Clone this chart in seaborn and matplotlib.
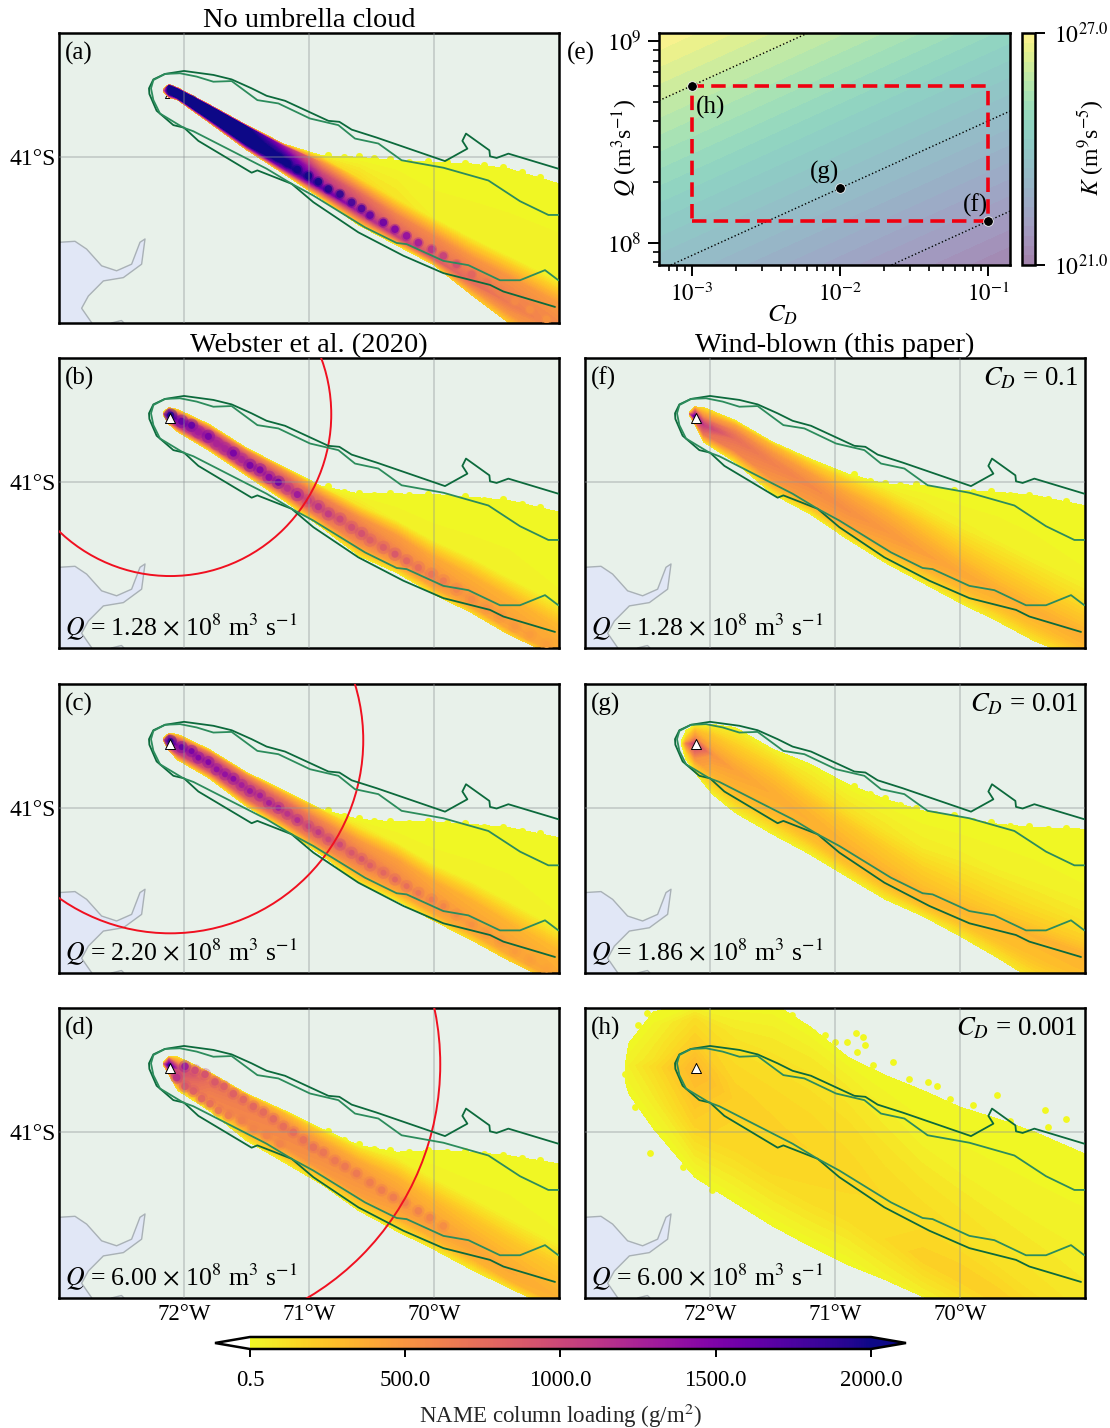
# Column loading panels (a)-(h) with the Q / C_D parameter space in (e)

import numpy as np
import pandas as pd
import seaborn as sns
import matplotlib.pyplot as plt
from matplotlib.cm import ScalarMappable
from matplotlib.colors import ListedColormap, Normalize
from matplotlib.patches import Ellipse, Polygon

W, H = 1110, 1428

# Outlines, coast and vent (lon, lat)
outer_lon = [-69.005, -69.405, -69.499, -69.552, -69.557, -69.744, -69.773, -69.733, -69.912, -70.459, -70.659, -70.757, -70.845, -71.192, -71.339, -71.459, -71.619, -71.765, -72.0, -72.152, -72.245, -72.28, -72.277, -72.219, -72.085, -72.0, -71.885, -71.459, -71.413, -71.139, -70.965, -70.605, -70.245, -69.925, -69.552, -69.445, -69.032]
outer_lat = [-41.069, -40.978, -41.004, -40.994, -40.958, -40.857, -40.901, -40.948, -41.023, -40.881, -40.833, -40.786, -40.78, -40.659, -40.629, -40.584, -40.53, -40.503, -40.479, -40.497, -40.53, -40.584, -40.618, -40.719, -40.806, -40.821, -40.901, -41.093, -41.079, -41.16, -41.271, -41.453, -41.594, -41.699, -41.77, -41.81, -41.903]
inner_lon = [-69.005, -69.085, -69.312, -69.565, -69.925, -70.259, -70.445, -70.632, -70.765, -70.992, -71.245, -71.413, -71.619, -71.765, -71.899, -72.032, -72.152, -72.245, -72.264, -72.245, -72.192, -72.005, -71.925, -71.339, -71.139, -70.965, -70.552, -70.299, -70.219, -69.925, -69.725, -69.472, -69.312, -69.112, -69.005]
inner_lat = [-41.348, -41.348, -41.265, -41.14, -41.063, -41.018, -40.917, -40.887, -40.806, -40.766, -40.675, -40.655, -40.54, -40.544, -40.513, -40.493, -40.497, -40.534, -40.584, -40.655, -40.736, -40.821, -40.843, -41.069, -41.16, -41.231, -41.423, -41.517, -41.524, -41.625, -41.651, -41.742, -41.742, -41.681, -41.742]
coast_lon = [-73.0, -72.872, -72.779, -72.659, -72.539, -72.419, -72.352, -72.312, -72.339, -72.485, -72.645, -72.765, -72.819, -72.739]
coast_lat = [-41.513, -41.507, -41.554, -41.655, -41.685, -41.645, -41.513, -41.493, -41.645, -41.726, -41.746, -41.837, -41.911, -41.998]
vent_lon, vent_lat = -72.11, -40.615
umbrella_lat = -40.59

# Plume stations, edges and cross sections, one table per panel
station_lon = [-72.165, -72.12, -72.05, -71.8, -71.5, -71.2, -70.9, -70.6, -70.3, -70.0, -69.7, -69.4, -69.0]
ridge_shared = [-40.585, -40.60, -40.622, -40.727, -40.884, -41.02, -41.161, -41.303, -41.434, -41.585, -41.707, -41.848, -42.03]

a_top = [-40.585, -40.56, -40.58, -40.68, -40.805, -40.92, -40.99, -41.0, -41.02, -41.03, -41.04, -41.07, -41.16]
a_bottom = [-40.605, -40.64, -40.655, -40.79, -40.955, -41.10, -41.25, -41.41, -41.53, -41.65, -41.83, -42.0, -42.2]
a_ridge = [-40.595, -40.60, -40.625, -40.745, -40.891, -41.037, -41.182, -41.328, -41.473, -41.61, -41.75, -41.88, -42.05]
a_band = [.005, .03, .035, .055, .075, .10, .15, .2, .22, .24, .26, .28, .3]
a_vals = [[100, 200, 400, 600, 800, 400, 100],
          [300, 2050, 2100, 2100, 2100, 1800, 300],
          [200, 2050, 2100, 2100, 2100, 2100, 200],
          [200, 2050, 2100, 2100, 2100, 2050, 200],
          [200, 2000, 2100, 2100, 2100, 2000, 200],
          [100, 1300, 1800, 2050, 2050, 1400, 100],
          [.5, 500, 1000, 1300, 1650, 800, 100],
          [.5, 150, 750, 1000, 1250, 600, 50],
          [.5, 100, 600, 800, 1050, 500, 50],
          [.5, 50, 550, 700, 850, 500, 100],
          [.5, 50, 500, 650, 750, 500, 200],
          [.5, 50, 500, 600, 650, 500, 200],
          [.5, 50, 450, 550, 550, 500, 300]]

b_top = [-40.575, -40.549, -40.561, -40.65, -40.793, -40.909, -41.024, -41.07, -41.07, -41.074, -41.09, -41.11, -41.18]
b_bottom = [-40.595, -40.65, -40.696, -40.808, -40.959, -41.11, -41.272, -41.444, -41.545, -41.676, -41.787, -41.919, -42.06]
b_band = [.005, .035, .03, .05, .07, .09, .12, .16, .20, .23, .25, .27, .30]
b_vals = [[50, 100, 300, 500, 700, 300, 50],
          [200, 1000, 1400, 1700, 1850, 1200, 200],
          [100, 850, 1200, 1300, 1400, 1150, 100],
          [50, 700, 1100, 1200, 1250, 1000, 80],
          [50, 600, 950, 1100, 1150, 900, 80],
          [50, 450, 800, 950, 1050, 750, 60],
          [.5, 220, 620, 800, 880, 620, 50],
          [.5, 100, 520, 660, 740, 520, 50],
          [.5, 50, 460, 560, 640, 430, 50],
          [.5, 40, 390, 490, 530, 410, 80],
          [.5, 40, 350, 430, 480, 400, 120],
          [.5, 40, 340, 410, 440, 400, 150],
          [.5, 30, 300, 380, 400, 380, 250]]

c_top = [-40.575, -40.549, -40.555, -40.645, -40.785, -40.895, -41.01, -41.07, -41.085, -41.085, -41.10, -41.12, -41.18]
c_bottom = [-40.595, -40.655, -40.71, -40.82, -40.99, -41.13, -41.285, -41.455, -41.56, -41.685, -41.80, -41.925, -42.07]
c_band = [.005, .035, .035, .06, .08, .10, .14, .18, .22, .24, .26, .28, .30]
c_vals = [[50, 100, 300, 500, 700, 300, 50],
          [200, 1000, 1400, 1600, 1750, 1200, 200],
          [100, 800, 1100, 1200, 1300, 1050, 100],
          [50, 620, 980, 1100, 1150, 900, 80],
          [50, 520, 880, 1000, 1080, 820, 70],
          [50, 400, 750, 880, 970, 700, 60],
          [.5, 220, 580, 760, 860, 580, 50],
          [.5, 100, 470, 610, 710, 480, 50],
          [.5, 50, 430, 530, 610, 410, 50],
          [.5, 40, 380, 460, 490, 390, 80],
          [.5, 40, 340, 410, 450, 380, 120],
          [.5, 40, 320, 400, 430, 380, 150],
          [.5, 30, 300, 370, 390, 370, 250]]

d_top = [-40.575, -40.545, -40.545, -40.636, -40.767, -40.868, -40.979, -41.08, -41.12, -41.11, -41.12, -41.141, -41.191]
d_bottom = [-40.595, -40.655, -40.747, -40.868, -41.05, -41.181, -41.313, -41.474, -41.595, -41.707, -41.828, -41.939, -42.08]
d_ridge = [-40.585, -40.595, -40.616, -40.707, -40.848, -40.979, -41.131, -41.272, -41.414, -41.565, -41.696, -41.838, -42.0]
d_band = [.005, .035, .03, .06, .07, .09, .13, .17, .25, .28, .30, .32, .33]
d_vals = [[50, 100, 300, 500, 700, 300, 50],
          [200, 900, 1300, 1650, 1850, 1000, 150],
          [100, 600, 850, 950, 1000, 800, 80],
          [50, 450, 600, 660, 700, 600, 50],
          [50, 350, 520, 590, 620, 550, 50],
          [50, 300, 480, 550, 580, 530, 50],
          [.5, 200, 420, 510, 560, 480, 50],
          [.5, 120, 380, 480, 530, 440, 40],
          [.5, 60, 340, 440, 490, 380, 40],
          [.5, 50, 300, 400, 450, 340, 50],
          [.5, 40, 260, 360, 410, 320, 60],
          [.5, 40, 250, 340, 380, 340, 80],
          [.5, 30, 230, 310, 350, 320, 150]]

f_top = [-40.575, -40.545, -40.549, -40.626, -40.757, -40.858, -40.949, -41.01, -41.02, -41.05, -41.06, -41.08, -41.141]
f_bottom = [-40.595, -40.65, -40.757, -40.878, -41.07, -41.191, -41.343, -41.484, -41.606, -41.727, -41.838, -41.959, -42.08]
f_ridge = [-40.585, -40.605, -40.656, -40.737, -40.889, -41.02, -41.171, -41.293, -41.424, -41.545, -41.656, -41.777, -41.939]
f_band = [.005, .04, .05, .08, .11, .13, .18, .22, .26, .28, .30, .32, .35]
f_vals = [[50, 100, 300, 500, 700, 300, 50],
          [200, 700, 1100, 1500, 1750, 800, 150],
          [100, 550, 820, 980, 1050, 700, 80],
          [40, 400, 600, 700, 720, 600, 60],
          [30, 300, 500, 590, 610, 500, 40],
          [30, 220, 450, 530, 560, 470, 40],
          [.5, 180, 400, 490, 530, 430, 40],
          [.5, 130, 340, 440, 480, 380, 40],
          [.5, 80, 270, 390, 440, 330, 30],
          [.5, 60, 210, 340, 400, 300, 40],
          [.5, 50, 180, 300, 370, 290, 60],
          [.5, 40, 170, 290, 360, 280, 90],
          [.5, 30, 150, 290, 360, 300, 150]]

g_lon = [-72.225, -72.19, -72.12, -71.98, -71.8, -71.5, -71.2, -70.9, -70.6, -70.3, -70.0, -69.7, -69.4, -69.0]
g_top = [-40.59, -40.53, -40.499, -40.495, -40.513, -40.644, -40.735, -40.856, -40.947, -41.018, -41.058, -41.099, -41.119, -41.129]
g_bottom = [-40.63, -40.71, -40.786, -40.917, -41.028, -41.159, -41.281, -41.418, -41.553, -41.654, -41.776, -41.907, -42.048, -42.149]
g_ridge = [-40.61, -40.61, -40.614, -40.68, -40.776, -40.917, -41.079, -41.24, -41.382, -41.523, -41.604, -41.695, -41.776, -41.887]
g_band = [.01, .05, .08, .11, .14, .18, .2, .22, .24, .28, .30, .32, .34, .36]
g_vals = [[.5, 10, 20, 30, 40, 20, .5],
          [30, 100, 250, 400, 600, 200, 30],
          [30, 300, 500, 800, 1050, 500, 30],
          [30, 260, 340, 430, 500, 330, 30],
          [30, 220, 320, 390, 420, 310, 30],
          [30, 180, 290, 350, 370, 300, 30],
          [20, 140, 270, 330, 350, 290, 30],
          [.5, 120, 250, 310, 340, 290, 40],
          [.5, 100, 220, 290, 330, 280, 40],
          [.5, 70, 190, 270, 330, 280, 40],
          [.5, 60, 160, 240, 320, 270, 50],
          [.5, 50, 140, 230, 320, 270, 70],
          [.5, 40, 120, 220, 330, 270, 100],
          [.5, 30, 100, 210, 340, 290, 150]]

h_lon = [-72.68, -72.65, -72.45, -72.12, -71.8, -71.5, -71.2, -70.9, -70.6, -70.3, -70.0, -69.7, -69.4, -69.0]
h_top = [-40.606, -40.464, -40.272, -40.22, -40.22, -40.22, -40.363, -40.545, -40.656, -40.747, -40.848, -40.919, -41.0, -41.131]
h_bottom = [-40.687, -40.767, -40.979, -41.272, -41.424, -41.565, -41.686, -41.798, -41.889, -41.99, -42.08, -42.2, -42.32, -42.44]
h_ridge = [-40.64, -40.595, -40.606, -40.616, -40.808, -40.949, -41.111, -41.252, -41.394, -41.535, -41.656, -41.798, -41.939, -42.1]
h_band = [.01, .1, .25, .3, .4, .5, .55, .55, .5, .45, .45, .45, .45, .45]
h_vals = [[.5, 5, 5, 10, 10, 5, .5],
          [.5, 10, 30, 40, 50, 30, .5],
          [.5, 30, 70, 100, 140, 70, .5],
          [.5, 130, 200, 280, 320, 190, .5],
          [.5, 90, 150, 180, 190, 150, .5],
          [.5, 80, 140, 170, 180, 150, .5],
          [.5, 80, 140, 165, 175, 140, .5],
          [.5, 70, 130, 155, 165, 130, .5],
          [.5, 60, 110, 140, 150, 150, 30],
          [.5, 50, 100, 130, 140, 190, 40],
          [.5, 40, 90, 120, 130, 200, 60],
          [.5, 40, 85, 110, 120, 200, 70],
          [.5, 40, 80, 100, 110, 180, 90],
          [.5, 40, 70, 90, 100, 150, 100]]

# Bright pulses along the ridge
bead_lon = [-72.107, -72.019, -71.939, -71.885, -71.805, -71.739, -71.672, -71.605, -71.539, -71.472, -71.392, -71.32, -71.245, -71.173, -71.093, -71.005, -70.925, -70.845, -70.752, -70.659, -70.579, -70.512, -70.405, -70.312, -70.219, -70.125, -70.019, -69.925, -69.819, -69.699, -69.579, -69.472, -69.352, -69.232, -69.099]
bead_lat = [-40.595, -40.632, -40.656, -40.696, -40.723, -40.767, -40.797, -40.824, -40.862, -40.898, -40.925, -40.97, -41.0, -41.036, -41.074, -41.111, -41.147, -41.191, -41.222, -41.272, -41.309, -41.349, -41.393, -41.434, -41.474, -41.515, -41.555, -41.595, -41.646, -41.707, -41.757, -41.808, -41.868, -41.919, -41.979]
a_bead = [2100] * 17 + [1950, 1900, 1800, 1750, 1650, 1600, 1500, 1400, 1300, 1150, 1050, 950, 800, 700, 620, 560, 520, 500]
b_bead = [1950, 1650, 1650, 1300, 1550, 1250, 1250, 1550, 1250, 1550, 1500, 1450, 1600, 1150, 1350, 1050, 1150, 1100, 1000, 950, 950, 850, 850, 900, 800, 750, 700, 650, 600, 550, 520, 500, 480, 460, 440]
c_bead = [1900, 1650, 1550, 1500, 1500, 1400, 1400, 1450, 1300, 1350, 1300, 1300, 1300, 1150, 1200, 1050, 1100, 1000, 1000, 900, 900, 850, 800, 800, 750, 700, 650, 600, 560, 520, 500, 480, 460, 440, 420]
d_bead_lon = [-71.992, -71.912, -71.832, -71.752, -71.68, -71.605, -71.525, -71.445, -71.365, -71.285, -71.205, -71.125, -71.045, -70.965, -70.885, -70.792, -70.712, -70.619, -70.512, -70.419, -70.325, -70.232, -70.125, -70.032, -69.925, -72.059, -71.992, -71.925, -71.859, -71.792, -71.725, -71.645, -71.539, -71.445, -71.339, -71.232]
d_bead_lat = [-40.602, -40.626, -40.65, -40.696, -40.723, -40.767, -40.802, -40.844, -40.878, -40.919, -40.965, -41.0, -41.046, -41.09, -41.121, -41.171, -41.206, -41.248, -41.303, -41.349, -41.393, -41.424, -41.474, -41.515, -41.565, -40.67, -40.723, -40.751, -40.797, -40.828, -40.868, -40.898, -40.929, -40.979, -41.02, -41.07]
d_bead = [1350, 1000, 950, 900, 850, 850, 800, 800, 780, 780, 750, 750, 720, 720, 700, 680, 680, 680, 650, 650, 650, 620, 620, 600, 550, 1150, 900, 850, 800, 750, 700, 650, 620, 600, 600, 600]

# Loose patches along the rough top edge of the tail and around (h)
bump_lon = [-70.85, -70.72, -70.6, -70.48, -70.35, -70.2, -70.05, -69.9, -69.75, -69.6, -69.45, -69.3, -69.15]
a_bump = [-40.985, -40.998, -40.993, -41.004, -41.008, -41.027, -41.02, -41.03, -41.032, -41.047, -41.06, -41.09, -41.12]
b_bump = [-41.025, -41.056, -41.063, -41.074, -41.064, -41.076, -41.068, -41.086, -41.084, -41.104, -41.10, -41.132, -41.147]
c_bump = [-41.014, -41.05, -41.063, -41.08, -41.079, -41.089, -41.079, -41.094, -41.094, -41.114, -41.117, -41.14, -41.151]
d_bump = [-40.99, -41.045, -41.073, -41.10, -41.107, -41.119, -41.104, -41.117, -41.114, -41.134, -41.139, -41.157, -41.166]
f_bump = [-40.953, -40.99, -41.003, -41.017, -41.012, -41.04, -41.044, -41.058, -41.054, -41.078, -41.079, -41.10, -41.112]
g_bump = [-40.865, -40.915, -40.94, -40.98, -41.0, -41.036, -41.045, -41.077, -41.086, -41.11, -41.11, -41.125, -41.119]
speck_lon = [-72.68, -72.507, -72.613, -71.173, -71.08, -71.0, -70.907, -70.832, -70.773, -70.76, -70.827, -70.693, -70.533, -70.405, -70.253, -70.181, -70.08, -69.893, -69.707, -69.6, -69.32, -69.155, -69.293, -69.413, -72.48, -72.213, -71.981, -72.6, -72.547, -71.347, -72.573]
speck_lat = [-40.65, -40.282, -40.464, -40.393, -40.414, -40.454, -40.454, -40.4, -40.424, -40.474, -40.515, -40.595, -40.575, -40.676, -40.696, -40.723, -40.798, -40.838, -40.777, -40.929, -40.868, -40.919, -40.969, -41.01, -41.125, -41.212, -41.349, -40.848, -40.848, -40.292, -40.353]

# Umbrella radius in degrees of longitude, source rates
umbrella_r = [1.288, 1.544, 2.16]
q_text = ['1.28', '2.20', '6.00', '1.28', '1.86', '6.00']
cd_text = ['0.1', '0.01', '0.001']

# Panel (e), all in log10
cd_edges = [-3.22, -0.85]
q_edges = [7.89, 9.04]
k_table = [[23.59, 21.22], [27.04, 24.67]]
run_cd = [-1, -2, -3]
run_q = [8.107, 8.27, 8.778]
line_h = ([-3.22, -2.214], [8.705, 9.04])
line_g = ([-3.14, -0.85], [7.89, 8.653])
line_f = ([-1.65, -0.85], [7.89, 8.157])
box_cd = [-3, -1, -1, -3, -3]
box_q = [8.107, 8.107, 8.778, 8.778, 8.107]

sns.set_theme(style='white')
plt.rcParams['font.family'] = ['Liberation Serif', 'DejaVu Sans']
plt.rcParams['mathtext.fontset'] = 'stix'
plt.rcParams['axes.edgecolor'] = 'black'
plt.rcParams['axes.linewidth'] = 1.8
plt.rcParams['text.color'] = 'black'
plt.rcParams['xtick.color'] = 'black'
plt.rcParams['ytick.color'] = 'black'

cmap = sns.color_palette('plasma_r', as_cmap=True).copy()
cmap.set_under('white')
cmap.set_over('#0d0887')
norm = Normalize(0.5, 2000)
levels = np.linspace(0.5, 2000, 81)

# viridis at half strength over white, opaque so the bands leave no seams
pale_viridis = np.array(sns.color_palette('viridis', 256))
pale_viridis = ListedColormap(0.5 * pale_viridis + 0.5)

LAND = '#e8f1ea'
SEA = '#e1e7f6'
DARK = '#0c6a3c'
MID = '#2c8c5c'
YELLOW = '#f1f821'


def px_axes(fig, left, top, right, bottom):
    return fig.add_axes([left / W, 1 - bottom / H, (right - left) / W, (bottom - top) / H])


def draw_plume(ax, lons, top, bottom, ridge, band, vals):
    top, bottom, ridge, band = map(np.array, (top, bottom, ridge, band))
    rows = np.array([top, ridge + band, ridge + .55 * band, ridge + .2 * band,
                     ridge, (ridge + bottom) / 2, bottom]).T
    xx = np.repeat(np.array(lons)[:, None], rows.shape[1], axis=1)
    ax.contourf(xx, rows, np.array(vals), levels=levels, cmap=cmap, norm=norm,
                extend='max', zorder=2)


def draw_bumps(ax, lons, lats, size=26):
    sns.scatterplot(x=lons, y=lats, color=YELLOW, s=size, linewidth=0, legend=False, ax=ax, zorder=1.9)


def draw_beads(ax, lons, lats, vals, size, halo):
    df = pd.DataFrame({'lon': lons, 'lat': lats, 'val': vals})
    sns.scatterplot(data=df, x='lon', y='lat', hue='val', palette=cmap, hue_norm=norm,
                    s=halo, alpha=.35, linewidth=0, legend=False, ax=ax, zorder=3)
    sns.scatterplot(data=df, x='lon', y='lat', hue='val', palette=cmap, hue_norm=norm,
                    s=size, alpha=.85, linewidth=0, legend=False, ax=ax, zorder=3.1)


def base_map(ax, label):
    ax.set_facecolor(LAND)
    ax.add_patch(Polygon(list(zip(coast_lon, coast_lat)) + [(-73, -42), (-73.1, -42), (-73.1, -41.5)],
                         closed=True, fc=SEA, ec='none', zorder=1))
    ax.plot(coast_lon, coast_lat, color='#a9b1b6', lw=1.0, zorder=1.5)
    ax.plot([-72.58, -72.5, -72.48], [-42.0, -41.985, -42.0], color='#a9b1b6', lw=1.0, zorder=1.5)
    ax.text(0.012, 0.93, label, transform=ax.transAxes, fontsize=18, ha='left', va='center', zorder=10)


def finish_map(ax, show_lon=False, show_lat=True):
    for lon in [-72, -71, -70]:
        ax.axvline(lon, color='#8f9496', alpha=.42, lw=1.2, zorder=4)
    ax.axhline(-41, color='#8f9496', alpha=.42, lw=1.2, zorder=4)
    sns.lineplot(x=outer_lon, y=outer_lat, sort=False, estimator=None, color=DARK, lw=1.3, ax=ax, zorder=6)
    sns.lineplot(x=inner_lon, y=inner_lat, sort=False, estimator=None, color=MID, lw=1.3, ax=ax, zorder=6)
    ax.set_xlim(-73, -69)
    ax.set_ylim(-42, -40.25)
    ax.set_xlabel('')
    ax.set_ylabel('')
    ax.set_xticks([-72, -71, -70] if show_lon else [])
    ax.set_xticklabels(['72°W', '71°W', '70°W'] if show_lon else [], fontsize=16.5)
    ax.set_yticks([-41] if show_lat else [])
    ax.set_yticklabels(['41°S'] if show_lat else [], fontsize=17)
    ax.tick_params(axis='x', length=0, pad=4)
    ax.tick_params(axis='y', length=0, pad=2.5)


def draw_vent(ax, zorder=7):
    sns.scatterplot(x=[vent_lon], y=[vent_lat], marker='^', s=52, color='white',
                    edgecolor='black', linewidth=.7, legend=False, ax=ax, zorder=zorder)


def draw_umbrella(ax, radius):
    ax.add_patch(Ellipse((vent_lon, umbrella_lat), 2 * radius, 2 * radius * 125 / 165, fill=False,
                         ec='#f01020', lw=1.4, zorder=5))


fig = plt.figure(figsize=(W / 100, H / 100), dpi=100)

ax_a = px_axes(fig, 59, 33, 559, 323)
ax_b = px_axes(fig, 59, 358, 559, 648)
ax_c = px_axes(fig, 59, 684, 559, 973)
ax_d = px_axes(fig, 59, 1008, 559, 1298)
ax_f = px_axes(fig, 585, 358, 1085, 648)
ax_g = px_axes(fig, 585, 684, 1085, 973)
ax_h = px_axes(fig, 585, 1008, 1085, 1298)
ax_e = px_axes(fig, 659, 33, 1010, 265)
ax_k = px_axes(fig, 1022, 33, 1035, 265)
ax_bar = px_axes(fig, 215, 1337, 906, 1349)

# Left column
base_map(ax_a, '(a)')
draw_vent(ax_a, zorder=1.8)
draw_bumps(ax_a, bump_lon, a_bump)
draw_plume(ax_a, station_lon, a_top, a_bottom, a_ridge, a_band, a_vals)
draw_beads(ax_a, bead_lon, bead_lat, a_bead, 30, 60)
finish_map(ax_a)

base_map(ax_b, '(b)')
draw_bumps(ax_b, bump_lon, b_bump)
draw_plume(ax_b, station_lon, b_top, b_bottom, ridge_shared, b_band, b_vals)
draw_beads(ax_b, bead_lon, bead_lat, b_bead, 26, 95)
draw_umbrella(ax_b, umbrella_r[0])
finish_map(ax_b)
draw_vent(ax_b)

base_map(ax_c, '(c)')
draw_bumps(ax_c, bump_lon, c_bump)
draw_plume(ax_c, station_lon, c_top, c_bottom, ridge_shared, c_band, c_vals)
draw_beads(ax_c, bead_lon, bead_lat, c_bead, 18, 80)
draw_umbrella(ax_c, umbrella_r[1])
finish_map(ax_c)
draw_vent(ax_c)

base_map(ax_d, '(d)')
draw_bumps(ax_d, bump_lon, d_bump)
draw_plume(ax_d, station_lon, d_top, d_bottom, d_ridge, d_band, d_vals)
draw_beads(ax_d, d_bead_lon, d_bead_lat, d_bead, 30, 80)
draw_umbrella(ax_d, umbrella_r[2])
finish_map(ax_d, show_lon=True)
draw_vent(ax_d)

# Right column
base_map(ax_f, '(f)')
draw_bumps(ax_f, bump_lon, f_bump)
draw_plume(ax_f, station_lon, f_top, f_bottom, f_ridge, f_band, f_vals)
finish_map(ax_f, show_lat=False)
draw_vent(ax_f)

base_map(ax_g, '(g)')
draw_bumps(ax_g, bump_lon, g_bump)
draw_plume(ax_g, g_lon, g_top, g_bottom, g_ridge, g_band, g_vals)
finish_map(ax_g, show_lat=False)
draw_vent(ax_g)

base_map(ax_h, '(h)')
draw_plume(ax_h, h_lon, h_top, h_bottom, h_ridge, h_band, h_vals)
draw_bumps(ax_h, speck_lon, speck_lat, size=24)
finish_map(ax_h, show_lon=True, show_lat=False)
draw_vent(ax_h)

for ax, q in zip([ax_b, ax_c, ax_d, ax_f, ax_g, ax_h], q_text):
    ax.text(0.012, 0.02, f'$Q$ = {q} $\\times$ 10$^8$ m$^3$ s$^{{-1}}$', transform=ax.transAxes,
            fontsize=18.5, ha='left', va='bottom', zorder=10)
for ax, cd in zip([ax_f, ax_g, ax_h], cd_text):
    ax.text(0.986, 0.93, f'$C_D$ = {cd}', transform=ax.transAxes, fontsize=19.3,
            ha='right', va='center', zorder=10)

ax_a.set_title('No umbrella cloud', fontsize=20.4, pad=-1)
ax_b.set_title('Webster et al. (2020)', fontsize=20.4, pad=3)
ax_f.set_title('Wind-blown (this paper)', fontsize=20.4, pad=3)

# Panel (e)
k_fill = ax_e.contourf(cd_edges, q_edges, k_table, levels=np.linspace(21, 27.04, 25),
                       cmap=pale_viridis, antialiased=False, zorder=1)
for xs, ys in (line_h, line_g, line_f):
    sns.lineplot(x=xs, y=ys, sort=False, estimator=None, color='black', lw=1.0, ax=ax_e, zorder=2, linestyle=':')
ax_e.plot(box_cd, box_q, color='#f00010', lw=2.6, ls=(0, (4, 2)), zorder=3)
sns.scatterplot(x=run_cd, y=run_q, color='black', s=48, legend=False, ax=ax_e, zorder=4)
ax_e.text(-2.87, 8.67, '(h)', fontsize=18, ha='center', va='center')
ax_e.text(-2.10, 8.35, '(g)', fontsize=18, ha='center', va='center')
ax_e.text(-1.085, 8.185, '(f)', fontsize=18, ha='center', va='center')
ax_e.set_xlim(-3.22, -0.85)
ax_e.set_ylim(7.89, 9.04)
ax_e.set_xticks([-3, -2, -1])
ax_e.set_xticklabels(['$10^{-3}$', '$10^{-2}$', '$10^{-1}$'], fontsize=16.5)
ax_e.set_yticks([8, 9])
ax_e.set_yticklabels(['$10^{8}$', '$10^{9}$'], fontsize=17.5)
minor_mult = np.log10([2, 3, 4, 5, 6, 7, 8, 9])
ax_e.set_xticks([k + m for k in (-4, -3, -2, -1) for m in minor_mult if -3.22 < k + m < -0.85], minor=True)
ax_e.set_yticks([k + m for k in (7, 8) for m in minor_mult if 7.89 < k + m < 9.04], minor=True)
ax_e.tick_params(which='major', length=8, width=1.4, bottom=True, left=True, pad=5)
ax_e.tick_params(which='minor', length=4.5, width=1.2, bottom=True, left=True)
ax_e.set_xlabel('')
ax_e.set_ylabel('')
fig.text(782 / W, 1 - 315 / H, '$C_D$', fontsize=18, ha='center', va='center')
fig.text(625 / W, 1 - 148 / H, '$Q$ (m$^3$s$^{-1}$)', fontsize=17, rotation=90, ha='center', va='center')
fig.text(581 / W, 1 - 53 / H, '(e)', fontsize=18, ha='center', va='center')

k_bar = fig.colorbar(k_fill, cax=ax_k, ticks=[21, 27.04])
k_bar.ax.set_yticklabels(['$10^{21.0}$', '$10^{27.0}$'], fontsize=17)
k_bar.ax.tick_params(length=7.5, width=1.4, right=True, pad=6)
k_bar.outline.set_linewidth(1.8)
fig.text(1091 / W, 1 - 148 / H, '$K$ (m$^9$s$^{-5}$)', fontsize=17, rotation=90, ha='center', va='center')

# Shared loading colour bar
bar = fig.colorbar(ScalarMappable(norm=norm, cmap=cmap), cax=ax_bar, orientation='horizontal',
                   extend='both', extendfrac=35 / 621, ticks=[0.5, 500, 1000, 1500, 2000])
bar.ax.set_xticklabels(['0.5', '500.0', '1000.0', '1500.0', '2000.0'], fontsize=16.5)
bar.ax.tick_params(length=6, width=1.4, bottom=True, pad=9)
bar.outline.set_linewidth(1.8)
bar.set_label('NAME column loading (g/m$^2$)', fontsize=16.5, labelpad=8)

fig.savefig('out.png', dpi=100)
